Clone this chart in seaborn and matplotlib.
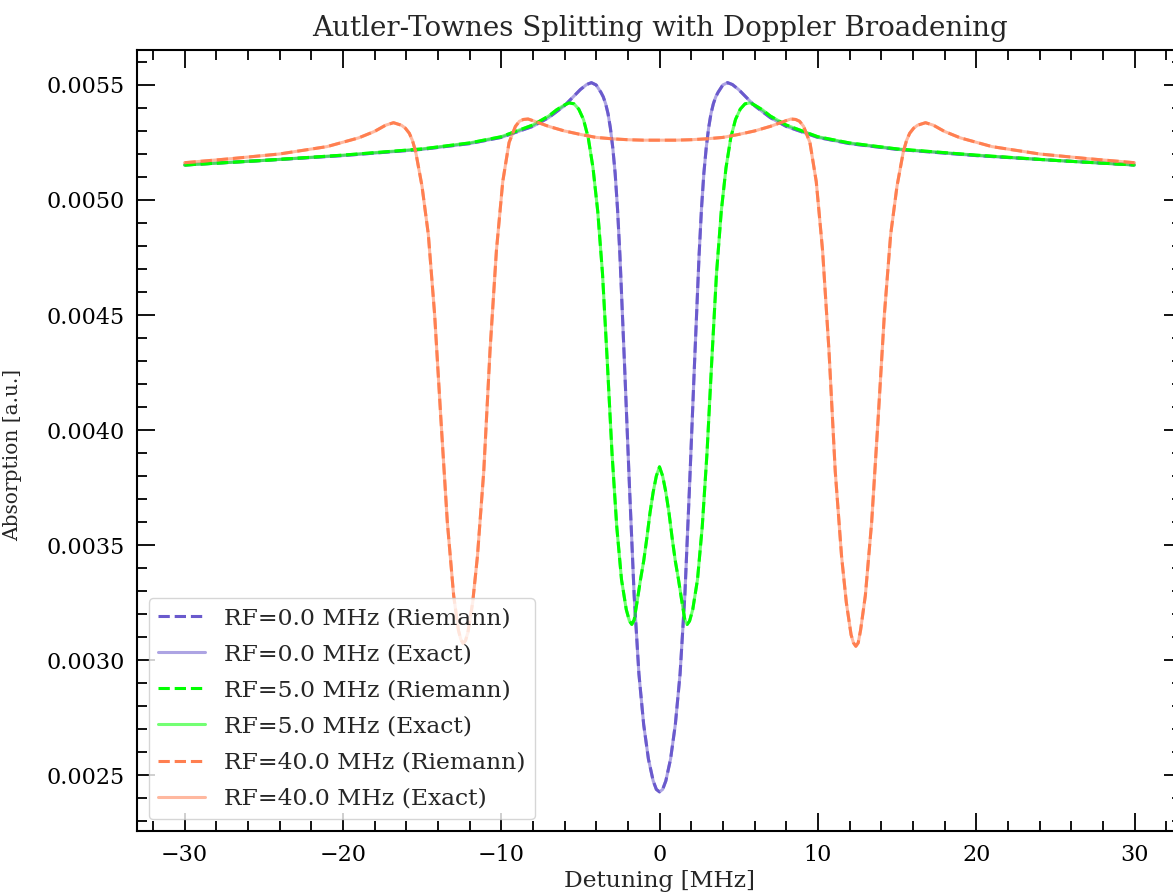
import numpy as np
import pandas as pd
import matplotlib
matplotlib.use("Agg")
import matplotlib.pyplot as plt
from matplotlib.ticker import AutoMinorLocator, MultipleLocator
import seaborn as sns

# ---------------- data ----------------
rf_labels = ["RF=0.0 MHz", "RF=5.0 MHz", "RF=40.0 MHz"]

det_rf0 = [-30, -25, -20, -15, -12, -10, -8, -7, -6, -5.5, -5, -4.6, -4.3, -4.0, -3.7, -3.55,
           -3.4, -3.25, -3.1, -2.95, -2.8, -2.65, -2.5, -2.2, -1.9, -1.6, -1.3, -1.0, -0.7,
           -0.4, -0.2, 0,
           0.2, 0.4, 0.7, 1.0, 1.3, 1.6, 1.9, 2.2, 2.5, 2.65, 2.8, 2.95, 3.1, 3.25, 3.4, 3.55,
           3.7, 4.0, 4.3, 4.6, 5, 5.5, 6, 7, 8, 10, 12, 15, 20, 25, 30]
abs_rf0 = [0.005152, 0.005172, 0.005193, 0.005220, 0.005245, 0.005272, 0.005320, 0.005358,
           0.005410, 0.005445, 0.005480, 0.005502, 0.005510, 0.005500, 0.005468, 0.005448,
           0.005418, 0.005375, 0.005312, 0.005226, 0.005115, 0.004960, 0.004760, 0.004270,
           0.003760, 0.003280, 0.002940, 0.002720, 0.002570, 0.002475, 0.002438, 0.002427,
           0.002438, 0.002475, 0.002570, 0.002720, 0.002940, 0.003280, 0.003760, 0.004270,
           0.004760, 0.004960, 0.005115, 0.005226, 0.005312, 0.005375, 0.005418, 0.005448,
           0.005468, 0.005500, 0.005510, 0.005502, 0.005480, 0.005445, 0.005410, 0.005358,
           0.005320, 0.005272, 0.005245, 0.005220, 0.005193, 0.005172, 0.005152]

det_rf5 = [-30, -25, -20, -15, -12, -10, -8, -7, -6.5, -6, -5.7, -5.4, -5.1, -4.8, -4.5, -4.2,
           -3.9, -3.6, -3.3, -3.0, -2.7, -2.4, -2.1, -1.9, -1.75, -1.6, -1.4, -1.2, -1.0,
           -0.8, -0.6, -0.4, -0.2, 0,
           0.2, 0.4, 0.6, 0.8, 1.0, 1.2, 1.4, 1.6, 1.75, 1.9, 2.1, 2.4, 2.7, 3.0, 3.3, 3.6,
           3.9, 4.2, 4.5, 4.8, 5.1, 5.4, 5.7, 6, 6.5, 7, 8, 10, 12, 15, 20, 25, 30]
abs_rf5 = [0.005152, 0.005172, 0.005195, 0.005222, 0.005248, 0.005275, 0.005326, 0.005365,
           0.005392, 0.005413, 0.005422, 0.005418, 0.005395, 0.005350, 0.005270, 0.005140,
           0.004950, 0.004680, 0.004300, 0.003900, 0.003580, 0.003350, 0.003220, 0.003170,
           0.003155, 0.003175, 0.003260, 0.003350, 0.003430, 0.003530, 0.003640, 0.003730,
           0.003800, 0.003840,
           0.003800, 0.003730, 0.003640, 0.003530, 0.003430, 0.003350, 0.003260, 0.003175,
           0.003155, 0.003170, 0.003220, 0.003350, 0.003580, 0.003900, 0.004300, 0.004680,
           0.004950, 0.005140, 0.005270, 0.005350, 0.005395, 0.005418, 0.005422, 0.005413,
           0.005392, 0.005365, 0.005326, 0.005275, 0.005248, 0.005222, 0.005195, 0.005172,
           0.005152]

det_rf40 = [-30, -27, -24, -21, -19, -18, -17.3, -16.8, -16.3, -16.05, -15.8, -15.6, -15.4,
            -15.0, -14.6, -14.2, -13.8, -13.4, -13.0, -12.7, -12.55, -12.4, -12.25, -12.1,
            -11.8, -11.5, -11.1, -10.7, -10.3, -9.9, -9.5, -9.1, -8.85, -8.6, -8.3, -8.0,
            -7.0, -6.0, -5.0, -4.0, -3.0, -2.0, -1.0, 0,
            1.0, 2.0, 3.0, 4.0, 5.0, 6.0, 7.0, 8.0, 8.3, 8.6, 8.85, 9.1, 9.5, 9.9, 10.3, 10.7,
            11.1, 11.5, 11.8, 12.1, 12.25, 12.4, 12.55, 12.7, 13.0, 13.4, 13.8, 14.2, 14.6,
            15.0, 15.4, 15.6, 15.8, 16.05, 16.3, 16.8, 17.3, 18, 19, 21, 24, 27, 30]
abs_rf40 = [0.005162, 0.005180, 0.005200, 0.005232, 0.005270, 0.005298, 0.005325, 0.005336,
            0.005325, 0.005312, 0.005290, 0.005258, 0.005210, 0.005060, 0.004850, 0.004500,
            0.004040, 0.003600, 0.003280, 0.003130, 0.003090, 0.003072, 0.003085, 0.003120,
            0.003250, 0.003450, 0.003820, 0.004350, 0.004780, 0.005080, 0.005250, 0.005320,
            0.005342, 0.005350, 0.005352, 0.005345, 0.005320, 0.005300, 0.005285, 0.005272,
            0.005266, 0.005262, 0.005260, 0.005260,
            0.005260, 0.005262, 0.005266, 0.005272, 0.005285, 0.005300, 0.005320, 0.005345,
            0.005352, 0.005350, 0.005342, 0.005320, 0.005250, 0.005080, 0.004780, 0.004350,
            0.003820, 0.003450, 0.003250, 0.003110, 0.003075, 0.003060, 0.003075, 0.003130,
            0.003280, 0.003600, 0.004040, 0.004500, 0.004850, 0.005060, 0.005210, 0.005258,
            0.005290, 0.005312, 0.005325, 0.005336, 0.005325, 0.005298, 0.005270, 0.005232,
            0.005200, 0.005180, 0.005162]

colors = ["#6A5ACD", "#00FF00", "#FF7F50"]
detunings = [det_rf0, det_rf5, det_rf40]
absorptions = [abs_rf0, abs_rf5, abs_rf40]

# ---------------- styling ----------------
sns.set_style("white")
plt.rcParams["font.family"] = ["DejaVu Serif"]
plt.rcParams["mathtext.fontset"] = "dejavuserif"

fig = plt.figure(figsize=(11.73, 8.94), dpi=100)
ax = fig.add_axes([137 / 1173, 63 / 894, 1045 / 1173, 781 / 894])

for lab, col, xs, ys in zip(rf_labels, colors, detunings, absorptions):
    df = pd.DataFrame({"x": xs, "y": ys})
    sns.lineplot(data=df, x="x", y="y", ax=ax, color=col, linestyle="--",
                 linewidth=2.2, label=f"{lab} (Riemann)", sort=False, estimator=None)
    sns.lineplot(data=df, x="x", y="y", ax=ax, color=col, linestyle="-", alpha=0.55,
                 linewidth=2.2, label=f"{lab} (Exact)", sort=False, estimator=None)

ax.set_xlim(-33, 33)
ax.set_ylim(0.002257, 0.005652)
ax.xaxis.set_major_locator(MultipleLocator(10))
ax.xaxis.set_minor_locator(AutoMinorLocator(5))
ax.yaxis.set_major_locator(MultipleLocator(0.0005))
ax.yaxis.set_minor_locator(AutoMinorLocator(5))
ax.tick_params(which="both", direction="in", top=True, right=True, bottom=True, left=True,
               width=1.3, colors="black", labelsize=16)
ax.tick_params(which="major", length=13)
ax.tick_params(which="minor", length=7)
ax.tick_params(axis="y", which="both", pad=8.6)
ax.tick_params(axis="x", which="both", pad=9.5)
for s in ax.spines.values():
    s.set_linewidth(1.5)
    s.set_color("black")

ax.set_title("Autler-Townes Splitting with Doppler Broadening", fontsize=20, pad=10)
ax.set_xlabel("Detuning [MHz]", fontsize=16.8, labelpad=3)
ax.set_ylabel("Absorption [a.u.]", fontsize=14.5)
ax.yaxis.set_label_coords(-0.110, 0.482)
ax.legend(loc="lower left", fontsize=16.9, framealpha=0.8, labelspacing=0.6)

fig.savefig("out.png", dpi=100)
